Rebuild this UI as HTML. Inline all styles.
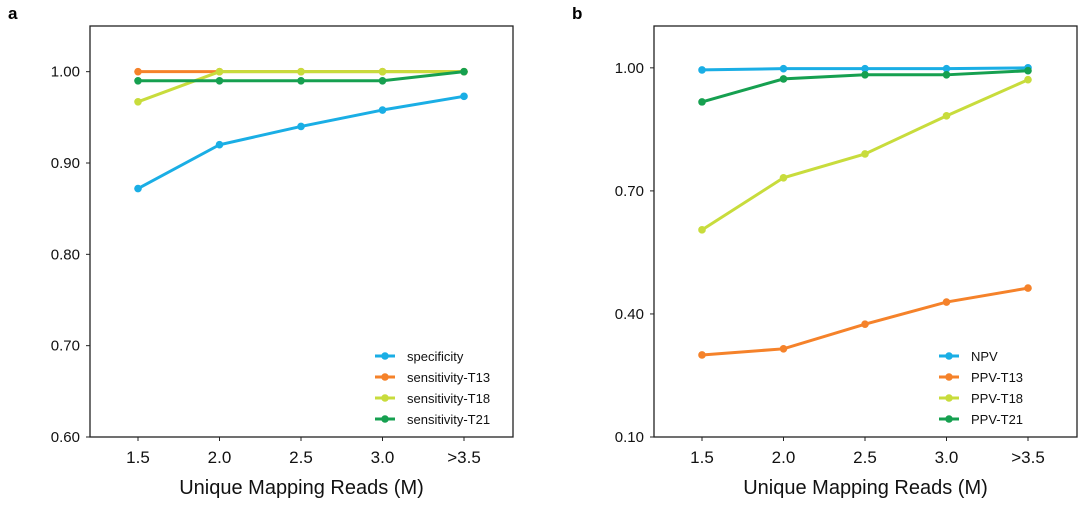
<!DOCTYPE html>
<html><head><meta charset="utf-8"><style>
body{margin:0;background:#fff;width:1080px;height:500px;overflow:hidden;font-family:"Liberation Sans",Arial,sans-serif}
</style></head><body>
<svg id="svg" width="1080" height="500" xmlns="http://www.w3.org/2000/svg"></svg>
<script>
const categories=["1.5","2.0","2.5","3.0",">3.5"];
const aNames=["specificity","sensitivity-T13","sensitivity-T18","sensitivity-T21"];
const aSpec=[0.872,0.920,0.940,0.958,0.973];
const aT13=[1.0,1.0,1.0,1.0,1.0];
const aT18=[0.967,1.0,1.0,1.0,1.0];
const aT21=[0.99,0.99,0.99,0.99,1.0];
const aTicks=[0.60,0.70,0.80,0.90,1.00];
const bNames=["NPV","PPV-T13","PPV-T18","PPV-T21"];
const bNPV=[0.995,0.998,0.998,0.998,1.0];
const bT13=[0.300,0.315,0.375,0.429,0.463];
const bT18=[0.605,0.732,0.790,0.883,0.971];
const bT21=[0.917,0.973,0.983,0.983,0.993];
const bTicks=[0.10,0.40,0.70,1.00];
const colors=["#1aaee5","#f5822a","#c8dc3c","#16a050"];
const NS="http://www.w3.org/2000/svg";
const svg=document.getElementById('svg');
function mk(t,a,p){const e=document.createElementNS(NS,t);for(const k in a)e.setAttribute(k,a[k]);(p||svg).appendChild(e);return e;}
function panel(id,left,yMin,yMax,yTickDec,ticks,series,names,legendY,letter){
  const top=26,bottom=437,w=423;
  const g=mk('g',{});
  
  
  const X=i=>left+48+i*81.5;
  const Y=v=>bottom-(v-yMin)/(yMax-yMin)*(bottom-top);
  const box=mk('rect',{x:left,y:top,width:w,height:bottom-top,fill:'none',stroke:'#222','stroke-width':1.3},g);
  
  ticks.forEach(t=>{const y=Y(t);
    mk('line',{x1:left-4,x2:left,y1:y,y2:y,stroke:'#222'},g);
    const tx=mk('text',{x:left-10,y:y+5,'text-anchor':'end','font-size':15,fill:'#111'},g);
    tx.textContent=t.toFixed(2);
    });
  categories.forEach((c,i)=>{const x=X(i);
    mk('line',{x1:x,x2:x,y1:bottom,y2:bottom+4,stroke:'#222'},g);
    const tx=mk('text',{x:x,y:bottom+26,'text-anchor':'middle','font-size':17,fill:'#111'},g);
    tx.textContent=c;
    });
  const xt=mk('text',{x:left+w/2,y:494,'text-anchor':'middle','font-size':20,fill:'#111'},g);
  xt.textContent='Unique Mapping Reads (M)';
  
  const lt=mk('text',{x:left-82,y:19,'font-size':17,'font-weight':'bold',fill:'#000'},g);
  lt.textContent=letter;
  
  series.forEach((s,k)=>{
    const pl=mk('polyline',{points:s.map((v,i)=>X(i)+','+Y(v)).join(' '),fill:'none',stroke:colors[k],'stroke-width':3},g);
    
    s.forEach((v,i)=>{const c=mk('circle',{cx:X(i),cy:Y(v),r:3.8,fill:colors[k]},g);
      });
  });
  names.forEach((n,k)=>{const y=legendY+k*21;const lx=left+w-128;
    const e=mk('g',{},g);
    
    mk('line',{x1:lx-10,x2:lx+10,y1:y,y2:y,stroke:colors[k],'stroke-width':3},e);
    mk('circle',{cx:lx,cy:y,r:3.8,fill:colors[k]},e);
    const t=mk('text',{x:lx+22,y:y+5,'font-size':13,fill:'#111'},e);t.textContent=n;});
}
panel('a',90,0.60,1.05,2,aTicks,[aSpec,aT13,aT18,aT21],aNames,356,'a');
panel('b',654,0.10,1.102,2,bTicks,[bNPV,bT13,bT18,bT21],bNames,356,'b');
</script>
</body></html>
